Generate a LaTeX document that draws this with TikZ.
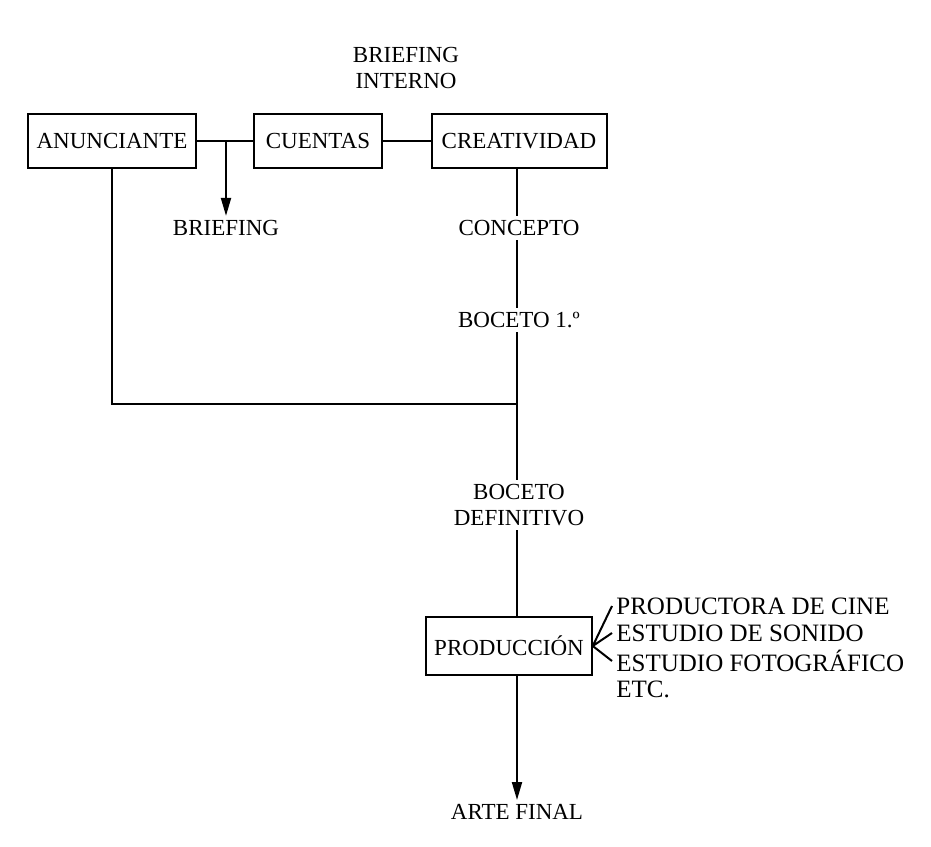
\documentclass[tikz,border=0pt]{standalone}
\usepackage{fontspec}
\setmainfont{Liberation Serif}
\usetikzlibrary{arrows.meta,positioning}

\begin{document}
\begin{tikzpicture}[x=0.5pt, y=-0.5pt, font=\fontsize{11.5}{13}\selectfont,
  box/.style={draw, line width=1pt, minimum height=27pt, inner xsep=4pt},
  lbl/.style={align=center, inner sep=2pt},
  side/.style={anchor=west, inner sep=2pt, font=\fontsize{12.5}{14}\selectfont},
  link/.style={line width=1pt},
  arr/.style={line width=1pt, -{Triangle[length=9pt,width=5pt]}}]
  \useasboundingbox (0,0) rectangle (931,846);
  % upper row
  \node[box, minimum width=84pt] (anun) at (112,141) {ANUNCIANTE};
  \node[box, minimum width=64pt] (cuen) at (318,141) {CUENTAS};
  \node[box, minimum width=87.5pt] (crea) at (519,141) {CREATIVIDAD};
  \node[lbl] (bint) at (406,68) {BRIEFING\\INTERNO};
  \node[lbl] (brief) at (226,228) {BRIEFING};
  % central column
  \node[lbl] (conc) at (519,228) {CONCEPTO};
  \node[lbl] (boc1) at (519,320) {BOCETO 1.º};
  \node[lbl] (bocd) at (519,505) {BOCETO\\DEFINITIVO};
  \node[box, minimum width=79pt, minimum height=29pt] (prod) at (509,646) {PRODUCCIÓN};
  \node[lbl] (arte) at (517,812) {ARTE FINAL};
  % suppliers
  \node[side] (cine) at (612,606) {PRODUCTORA DE CINE};
  \node[side] (soni) at (612,633) {ESTUDIO DE SONIDO};
  \node[side] (foto) at (612,661) {ESTUDIO FOTOGRÁFICO};
  \node[side] (etc) at (612,689) {ETC.};
  \coordinate (split) at (226,141);
  \coordinate (join) at (517,404);
  \draw[link] (anun) -- (cuen);
  \draw[arr] (split) -- (brief.north);
  \draw[link] (cuen) -- (crea);
  \draw[link] (crea.south -| join) -- (conc.north -| join);
  \draw[link] (conc.south -| join) -- (boc1.north -| join);
  \draw[link] (boc1.south -| join) -- (bocd.north -| join);
  \draw[link] (anun.south) -- (anun.south |- join) -- (join);
  \draw[link] (bocd.south -| join) -- (prod.north -| join);
  \draw[arr] (prod.south -| join) -- (arte.north -| join);
  \draw[link] (prod.east) -- (cine.west)
    (prod.east) -- (soni.west)
    (prod.east) -- (foto.west);
\end{tikzpicture}
\end{document}
